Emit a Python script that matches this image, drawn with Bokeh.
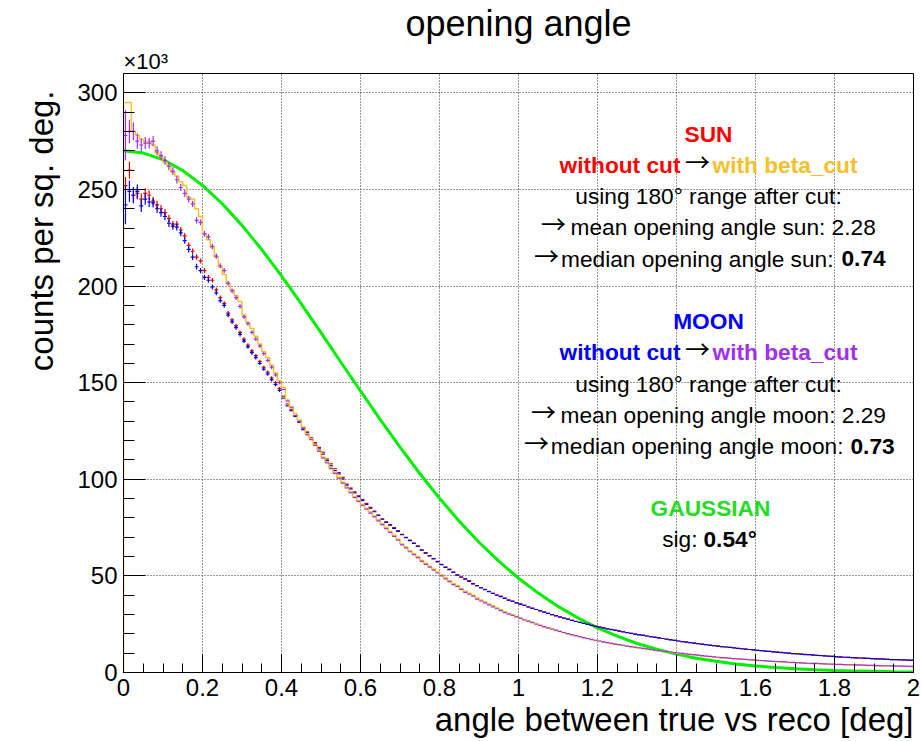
import numpy as np
from bokeh.plotting import figure
from bokeh.models import Label, FixedTicker, Range1d, Title
from bokeh.embed import file_html
from bokeh.resources import INLINE

# ---------------- data (counts per sq. deg., in units of 10^3) ----------------
x_bin_range = [0.0, 2.0]
n_bins = 200

sun_without_cut = [
    252, 260, 247, 248, 245, 248, 247, 244, 242, 240,
    238, 235, 232, 232, 229, 226, 221, 218, 215, 213,
    208, 204.5, 203, 198, 194, 191, 186, 182.5, 179.5, 176,
    172.5, 169.5, 166.5, 164, 161, 158, 155.5, 152.5, 150, 147,
    143, 139, 136, 133, 130, 126.5, 124.5, 121.5, 119, 116.5,
    114, 110.5, 108, 105.5, 103.5, 101, 97.5, 95.5, 93.5, 91.5,
    89.5, 87.5, 85.5, 83.5, 81.5, 79.5, 78, 76.5, 75, 73.5,
    71.5, 70, 68.5, 67, 65.5, 63.5, 62, 60.5, 59, 57.5,
    56, 54.5, 53.5, 52, 50.5, 49.5, 48.5, 47.5, 46, 45,
    44, 43, 42, 41, 40, 39.5, 38.5, 37.5, 37, 36,
    35.5, 34.8, 34.0, 33.3, 32.6, 32.0, 31.3, 30.6, 30.0, 29.4,
    28.8, 28.2, 27.6, 27.0, 26.5, 26.0, 25.4, 24.9, 24.4, 24.0,
    23.6, 23.1, 22.7, 22.3, 21.9, 21.5, 21.1, 20.7, 20.3, 19.9,
    19.6, 19.3, 18.9, 18.6, 18.3, 17.9, 17.6, 17.3, 17.0, 16.6,
    16.3, 16.0, 15.7, 15.4, 15.2, 14.9, 14.6, 14.4, 14.1, 13.9,
    13.7, 13.4, 13.2, 13.0, 12.8, 12.5, 12.3, 12.1, 11.9, 11.7,
    11.5, 11.3, 11.1, 10.9, 10.7, 10.5, 10.3, 10.1, 10.0, 9.8,
    9.6, 9.5, 9.3, 9.2, 9.0, 8.9, 8.7, 8.6, 8.4, 8.3,
    8.1, 8.0, 7.9, 7.8, 7.7, 7.6, 7.5, 7.4, 7.3, 7.2,
    7.1, 7.0, 6.9, 6.8, 6.7, 6.6, 6.5, 6.5, 6.4, 6.3,
]

sun_with_beta_cut = [
    295, 295, 280, 278, 276, 275, 275, 273, 269, 267,
    264, 262, 259, 257, 254, 252, 246, 245, 240, 236,
    227, 224, 220, 215, 210, 206, 201, 198, 195, 192,
    185, 181, 178, 174, 170, 166, 163, 159, 155, 151,
    147.6, 141, 137.5, 134, 130.5, 127, 123.5, 121, 118, 115,
    111.5, 109, 106, 103.5, 101, 98.5, 96, 93.5, 91, 89,
    87, 85, 83, 81, 79, 77, 75, 73, 71, 69,
    66.5, 65, 63, 61.5, 60, 58, 56.5, 55, 53.5, 52,
    50.5, 49, 47.5, 46, 45, 43.5, 42, 41, 40, 38.5,
    37.5, 36.5, 35.5, 34.5, 33.5, 32.5, 31.5, 30.5, 30, 29,
    28.0, 27.2, 26.5, 25.8, 25.0, 24.3, 23.6, 23.0, 22.4, 21.8,
    21.2, 20.6, 20.0, 19.5, 19.0, 18.5, 18.0, 17.5, 17.0, 16.6,
    16.2, 15.8, 15.4, 15.0, 14.6, 14.3, 14.0, 13.6, 13.3, 13.0,
    12.7, 12.4, 12.1, 11.8, 11.5, 11.2, 11.0, 10.7, 10.5, 10.2,
    10.0, 9.8, 9.5, 9.3, 9.1, 8.9, 8.6, 8.4, 8.2, 8.0,
    7.8, 7.6, 7.5, 7.3, 7.1, 7.0, 6.8, 6.7, 6.5, 6.4,
    6.2, 6.1, 6.0, 5.8, 5.7, 5.6, 5.5, 5.4, 5.2, 5.1,
    5.0, 4.9, 4.8, 4.7, 4.6, 4.6, 4.5, 4.4, 4.3, 4.2,
    4.1, 4.1, 4.0, 3.9, 3.9, 3.8, 3.8, 3.7, 3.6, 3.6,
    3.5, 3.5, 3.4, 3.4, 3.3, 3.3, 3.2, 3.2, 3.1, 3.1,
]

moon_without_cut = [
    242, 249, 247, 249, 241.5, 245, 243.5, 243, 240, 238,
    236, 232.5, 231, 230.5, 227.5, 223.5, 219, 215, 210, 208,
    204.5, 203, 199.5, 196.5, 192.5, 190, 185, 181.5, 178.5, 175,
    171.5, 168.5, 165.5, 163, 160, 157, 154.5, 151.5, 149, 146,
    142, 138, 135.5, 132.5, 129.5, 125.7, 124, 121, 118.3, 115.7,
    113, 109.7, 107, 104.5, 102.8, 100.2, 97, 95, 93, 91,
    89, 87, 85, 83.2, 81.3, 79.3, 77.7, 76.2, 74.6, 73,
    71.3, 69.8, 68.2, 66.8, 65.2, 63.3, 61.8, 60.3, 58.8, 57.3,
    55.8, 54.4, 53.2, 51.8, 50.4, 49.3, 48.3, 47.2, 45.9, 44.9,
    43.8, 42.9, 41.9, 40.9, 40.1, 39.3, 38.4, 37.5, 36.8, 36.0,
    35.3, 34.7, 33.9, 33.2, 32.6, 31.9, 31.2, 30.6, 30.0, 29.3,
    28.7, 28.1, 27.6, 27.0, 26.4, 25.9, 25.4, 24.9, 24.4, 23.9,
    23.5, 23.1, 22.6, 22.2, 21.8, 21.4, 21.0, 20.6, 20.3, 19.9,
    19.5, 19.2, 18.9, 18.5, 18.2, 17.9, 17.6, 17.2, 16.9, 16.6,
    16.3, 16.0, 15.7, 15.5, 15.2, 14.9, 14.7, 14.4, 14.2, 13.9,
    13.7, 13.4, 13.2, 13.0, 12.7, 12.5, 12.3, 12.1, 11.9, 11.7,
    11.5, 11.3, 11.1, 10.9, 10.7, 10.5, 10.4, 10.2, 10.0, 9.8,
    9.7, 9.5, 9.4, 9.2, 9.1, 8.9, 8.8, 8.6, 8.5, 8.3,
    8.2, 8.1, 7.9, 7.8, 7.7, 7.6, 7.5, 7.4, 7.3, 7.2,
    7.1, 7.0, 6.9, 6.8, 6.7, 6.7, 6.6, 6.5, 6.4, 6.4,
]

moon_with_beta_cut = [
    278, 280, 280, 275, 273, 274, 274, 275, 270, 267.5,
    265, 262, 259.5, 255, 251, 248, 245, 242.5, 234, 233,
    227, 225.5, 220.5, 215.5, 210.5, 208, 201.5, 197.5, 194, 189.5,
    184, 180.5, 176, 172.5, 169, 165, 161.5, 158, 154, 150,
    146.5, 140.5, 137, 133, 130, 126.5, 123, 120.5, 117.5, 114.5,
    111, 108.5, 105.5, 103, 100.5, 98, 95.5, 93, 90.5, 88.5,
    86.5, 84.5, 82.5, 80.5, 78.5, 76.5, 74.5, 72.5, 70.5, 68.5,
    66, 64.5, 62.5, 61, 59.5, 57.5, 56, 54.5, 53, 51.5,
    50, 48.5, 47, 45.5, 44.5, 43, 41.5, 40.5, 39.5, 38,
    37, 36, 35, 34, 33, 32, 31, 30.2, 29.5, 28.8,
    28.1, 27.3, 26.6, 25.9, 25.1, 24.4, 23.7, 23.1, 22.5, 21.9,
    21.3, 20.7, 20.1, 19.6, 19.1, 18.6, 18.1, 17.6, 17.1, 16.7,
    16.3, 15.9, 15.5, 15.1, 14.7, 14.4, 14.1, 13.7, 13.4, 13.1,
    12.8, 12.5, 12.2, 11.9, 11.6, 11.3, 11.1, 10.8, 10.6, 10.3,
    10.1, 9.9, 9.6, 9.4, 9.2, 9.0, 8.7, 8.5, 8.3, 8.1,
    7.9, 7.7, 7.6, 7.4, 7.2, 7.1, 6.9, 6.8, 6.6, 6.5,
    6.3, 6.2, 6.1, 5.9, 5.8, 5.7, 5.6, 5.5, 5.3, 5.2,
    5.1, 5.0, 4.9, 4.8, 4.7, 4.7, 4.6, 4.5, 4.4, 4.3,
    4.2, 4.2, 4.1, 4.0, 4.0, 3.9, 3.9, 3.8, 3.7, 3.7,
    3.6, 3.6, 3.5, 3.5, 3.4, 3.4, 3.3, 3.3, 3.2, 3.2,
]

# statistical error bars (half length) for the first bins; later bins ~0
sun_without_cut_err = [4.5, 4.3, 3.6, 3.2, 2.9, 2.6, 2.4, 2.2, 2.1, 2.0,
                       1.9, 1.8, 1.7, 1.6, 1.6, 1.5, 1.5, 1.4, 1.4, 1.3,
                       1.3, 1.2, 1.2, 1.2, 1.1, 1.1, 1.1, 1.0, 1.0, 1.0,
                       1.0, 0.9, 0.9, 0.9, 0.9, 0.8, 0.8, 0.8, 0.8, 0.8]
moon_without_cut_err = [10, 5.5, 4.2, 3.6, 3.2, 2.9, 2.6, 2.4, 2.2, 2.1,
                        2.0, 1.9, 1.8, 1.7, 1.7, 1.6, 1.6, 1.5, 1.5, 1.4,
                        1.4, 1.3, 1.3, 1.3, 1.2, 1.2, 1.2, 1.1, 1.1, 1.1,
                        1.0, 1.0, 1.0, 1.0, 0.9, 0.9, 0.9, 0.9, 0.9, 0.8]
moon_with_beta_cut_err = [13, 6, 4.6, 3.9, 3.4, 3.1, 2.8, 2.6, 2.4, 2.3,
                          2.2, 2.1, 2.0, 1.9, 1.8, 1.8, 1.7, 1.6, 1.6, 1.5,
                          1.5, 1.4, 1.4, 1.4, 1.3, 1.3, 1.3, 1.2, 1.2, 1.2,
                          1.1, 1.1, 1.1, 1.1, 1.0, 1.0, 1.0, 1.0, 1.0, 0.9]

gauss_x = [0.0, 0.05, 0.1, 0.15, 0.2, 0.25, 0.3, 0.35, 0.4, 0.45,
           0.5, 0.55, 0.6, 0.65, 0.7, 0.75, 0.8, 0.85, 0.9, 0.95,
           1.0, 1.05, 1.1, 1.15, 1.2, 1.25, 1.3, 1.35, 1.4, 1.45,
           1.5, 1.55, 1.6, 1.65, 1.7, 1.75, 1.8, 1.85, 1.9, 1.95, 2.0]
gauss_y = [270, 268.8, 265.4, 259.8, 252.1, 242.6, 231.4, 218.9, 205.3, 190.8,
           175.9, 160.7, 145.7, 130.9, 116.6, 103.0, 90.2, 78.3, 67.4, 57.6,
           48.8, 41.1, 34.2, 28.3, 23.1, 18.8, 15.0, 12.0, 9.5, 7.4,
           5.8, 4.4, 3.4, 2.6, 1.9, 1.4, 1.0, 0.8, 0.6, 0.4, 0.3]

x_ticks = [0, 0.2, 0.4, 0.6, 0.8, 1, 1.2, 1.4, 1.6, 1.8, 2]
x_tick_labels = ["0", "0.2", "0.4", "0.6", "0.8", "1", "1.2", "1.4", "1.6", "1.8", "2"]
y_ticks = [0, 50, 100, 150, 200, 250, 300]
y_tick_labels = ["0", "50", "100", "150", "200", "250", "300"]

# ---------------- colours / fonts ----------------
RED = "#e00000"
GOLD = "#f5c02a"
BLUE = "#0000e0"
VIOLET = "#a12ff0"
GREEN = "#00ee00"
FONT = "Liberation Sans"
ARROW_FONT = "Noto Sans CJK JP"

W, H = 922, 741
BL, BR, BT, BB = 123, 9, 73, 69
YMAX = 310.0

p = figure(width=W, height=H, output_backend="svg", toolbar_location=None, title=None,
           x_range=Range1d(0, 2), y_range=Range1d(0, YMAX),
           min_border_left=BL, min_border_right=BR, min_border_top=BT, min_border_bottom=BB)
p.background_fill_color = "white"
p.border_fill_color = "white"
p.outline_line_color = "black"
p.outline_line_width = 1

FW = W - BL - BR
FH = H - BT - BB


def dx(px):
    return (px - BL) / FW * 2.0


def dy(py):
    return (H - BB - py) / FH * YMAX


edges = np.linspace(x_bin_range[0], x_bin_range[1], n_bins + 1)
lo, hi = edges[:-1], edges[1:]
ctr = 0.5 * (lo + hi)


def errs(lst):
    e = np.zeros(n_bins)
    e[:len(lst)] = lst
    return e


def crosses(vals, err, color):
    v = np.array(vals, dtype=float)
    p.segment(x0=lo, y0=v, x1=hi, y1=v, line_color=color, line_width=1.2)
    m = err > 0
    p.segment(x0=ctr[m], y0=(v - err)[m], x1=ctr[m], y1=(v + err)[m],
              line_color=color, line_width=1.2)


# green gaussian
p.line(gauss_x, gauss_y, line_color=GREEN, line_width=3)
# sun without cut (red crosses)
crosses(sun_without_cut, errs(sun_without_cut_err), RED)
# moon without cut (blue crosses)
crosses(moon_without_cut, errs(moon_without_cut_err), BLUE)
# sun with cut: step histogram
sv = np.array(sun_with_beta_cut, dtype=float)
sx = np.concatenate([[edges[0]], np.repeat(edges[1:-1], 2), [edges[-1]]])
sy = np.repeat(sv, 2)
p.line(np.concatenate([[edges[0]], sx, [edges[-1]]]),
       np.concatenate([[0], sy, [0]]), line_color=GOLD, line_width=1.5)
# moon with cut: violet crosses
crosses(moon_with_beta_cut, errs(moon_with_beta_cut_err), VIOLET)

# ---------------- axes ----------------
p.xaxis.ticker = FixedTicker(ticks=x_ticks, minor_ticks=list(np.arange(0, 2.0001, 0.05)))
p.yaxis.ticker = FixedTicker(ticks=y_ticks, minor_ticks=list(np.arange(0, 311, 10)))
p.xaxis.major_label_overrides = dict(zip(x_ticks, x_tick_labels))
p.yaxis.major_label_overrides = dict(zip(y_ticks, y_tick_labels))
for ax in (p.xaxis, p.yaxis):
    ax.axis_line_color = "black"
    ax.major_tick_line_color = "black"
    ax.minor_tick_line_color = "black"
    ax.major_tick_out = 0
    ax.minor_tick_out = 0
    ax.major_label_text_font = FONT
    ax.major_label_text_font_size = "24px"
    ax.major_label_text_color = "black"
p.xaxis.major_tick_in = 18
p.xaxis.minor_tick_in = 9
p.yaxis.major_tick_in = 22
p.yaxis.minor_tick_in = 11
p.xaxis.major_label_standoff = 6
p.yaxis.major_label_standoff = 6

p.xgrid.ticker = FixedTicker(ticks=x_ticks)
p.ygrid.ticker = FixedTicker(ticks=y_ticks)
for g in (p.xgrid, p.ygrid):
    g.grid_line_color = "#333333"
    g.grid_line_dash = "1 2"
    g.grid_line_width = 1

# ---------------- titles outside the frame ----------------
p.add_layout(Title(text="\u00d710\u00b3", align="left", text_font=FONT, text_font_size="22px",
                   text_color="black", text_font_style="normal", standoff=0), "above")
p.add_layout(Title(text="opening angle", align="center", text_font=FONT, text_font_size="36px",
                   text_color="black", text_font_style="normal", standoff=2,
                   vertical_align="top"), "above")
p.add_layout(Title(text="counts per sq. deg.", align="right", text_font=FONT,
                   text_color="black", text_font_size="33px", text_font_style="normal",
                   standoff=29, offset=17), "left")
p.add_layout(Title(text="angle between true vs reco [deg]", align="right", text_font=FONT,
                   text_color="black", text_font_size="33px", text_font_style="normal",
                   standoff=0), "below")


# ---------------- texts inside the frame ----------------
def txt(px, py, s, color="black", size="22.7px", bold=False, align="center", font=FONT):
    p.add_layout(Label(x=dx(px), y=dy(py), text=s, text_color=color, text_font=font,
                       text_font_size=size, text_font_style="bold" if bold else "normal",
                       text_align=align, text_baseline="alphabetic"))


def arrow(px, py):
    txt(px, py - 4, "\u2192", size="25px", font=ARROW_FONT)


txt(708, 133, "SUN", color="#ff0000", bold=True)
txt(680, 164.3, "without cut", color="#ff0000", bold=True, align="right")
arrow(697, 164.3)
txt(712, 164.3, "with beta_cut", color=GOLD, bold=True, align="left")
txt(708, 195.6, "using 180\u00b0 range after cut:")
arrow(553, 226.9)
txt(570, 226.9, "mean opening angle sun: 2.28", align="left")
arrow(546, 258.2)
txt(833, 258.2, "median opening angle sun:", align="right")
txt(841, 258.2, "0.74", bold=True, align="left")

txt(708, 320.5, "MOON", color="#0000ff", bold=True)
txt(680, 351.8, "without cut", color="#0000ff", bold=True, align="right")
arrow(697, 351.8)
txt(712, 351.8, "with beta_cut", color=VIOLET, bold=True, align="left")
txt(708, 383.1, "using 180\u00b0 range after cut:")
arrow(543, 414.4)
txt(560, 414.4, "mean opening angle moon: 2.29", align="left")
arrow(536, 445.7)
txt(843, 445.7, "median opening angle moon:", align="right")
txt(850, 445.7, "0.73", bold=True, align="left")

txt(710, 507.5, "GAUSSIAN", color="#22dd22", bold=True)
txt(697, 538.8, "sig:", align="right")
txt(703, 538.8, "0.54\u00b0", bold=True, align="left")

open("out.html", "w").write(file_html(p, INLINE))
